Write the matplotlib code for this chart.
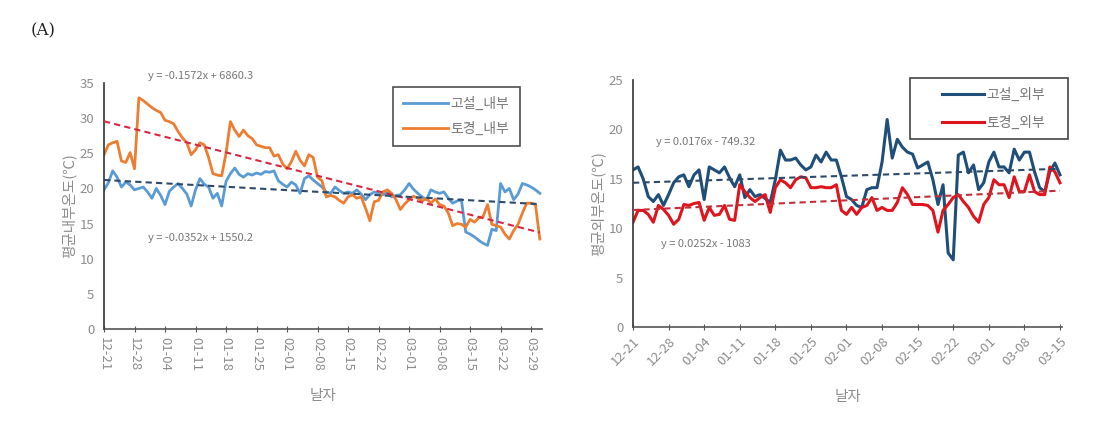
import numpy as np
import pandas as pd
import matplotlib
matplotlib.use('Agg')
import matplotlib.pyplot as plt
import matplotlib.dates as mdates
from matplotlib.patches import Rectangle

plt.rcParams['font.family'] = ['Noto Sans CJK KR', 'DejaVu Sans']

# left panel: inside temperature, 2018-12-21 .. 2019-03-31
in_start = '2018-12-21'
gosul_in = [19.8, 20.8, 22.5, 21.6, 20.2, 20.9, 20.5, 19.8, 20.0, 20.2,
            19.5, 18.6, 20.0, 19.0, 17.7, 19.6, 20.2, 20.7, 20.0, 19.2,
            17.5, 19.8, 21.4, 20.6, 20.2, 18.6, 19.3, 17.5, 21.0, 22.1,
            22.9, 22.0, 21.6, 22.1, 21.9, 22.2, 22.0, 22.4, 22.3, 22.5,
            21.1, 20.6, 20.2, 20.9, 20.5, 19.3, 21.4, 21.8, 21.2, 20.7,
            20.2, 19.5, 19.3, 20.2, 19.7, 19.3, 19.5, 19.3, 19.8, 19.2,
            18.4, 19.1, 19.5, 19.3, 19.1, 19.4, 18.8, 19.0, 19.1, 19.8,
            20.7, 19.9, 19.3, 18.8, 18.4, 19.8, 19.5, 19.3, 19.5, 18.6,
            17.9, 18.2, 18.4, 13.8, 13.5, 13.1, 12.6, 12.2, 11.9, 14.2,
            14.0, 20.7, 19.5, 20.0, 18.4, 19.2, 20.7, 20.5, 20.2, 19.8,
            19.3]
togyeong_in = [24.8, 26.2, 26.5, 26.7, 23.9, 23.7, 25.1, 22.8, 32.9, 32.5,
               32.0, 31.5, 31.1, 30.8, 29.7, 29.5, 29.2, 28.1, 27.2, 26.5,
               24.8, 25.5, 26.5, 26.2, 24.4, 22.1, 21.9, 21.8, 25.0, 29.5,
               28.3, 27.4, 28.3, 27.5, 27.1, 26.2, 26.0, 25.8, 25.8, 24.6,
               24.8, 23.5, 22.8, 23.8, 25.3, 24.0, 23.2, 24.8, 24.4, 21.6,
               21.1, 18.8, 19.0, 18.8, 18.3, 17.9, 18.8, 19.1, 18.6, 18.8,
               17.2, 15.4, 18.1, 18.3, 19.5, 19.8, 19.3, 18.4, 17.0, 17.8,
               18.4, 18.9, 18.6, 18.2, 18.6, 17.9, 18.5, 17.7, 17.5, 16.5,
               14.7, 15.0, 14.9, 14.5, 15.6, 15.2, 15.8, 16.0, 17.7, 14.9,
               14.7, 14.5, 13.5, 12.8, 14.0, 14.9, 16.5, 17.9, 17.9, 17.7,
               12.8]
in_ticks = ['12-21', '12-28', '01-04', '01-11', '01-18', '01-25', '02-01', '02-08',
            '02-15', '02-22', '03-01', '03-08', '03-15', '03-22', '03-29']

# right panel: outside temperature, 2018-12-21 .. 2019-03-15
out_start = '2018-12-21'
gosul_out = [15.9, 16.2, 15.0, 13.2, 12.7, 13.4, 12.3, 13.4, 14.6, 15.2,
             15.4, 14.2, 15.4, 15.9, 12.9, 16.2, 15.9, 15.6, 16.2, 15.1,
             14.2, 15.4, 13.1, 13.9, 13.2, 13.4, 13.0, 12.6, 14.9, 17.9,
             16.9, 16.9, 17.1, 16.4, 15.9, 16.2, 17.4, 16.7, 17.7, 16.9,
             16.9, 15.2, 13.2, 12.9, 12.3, 12.1, 13.9, 14.1, 14.1, 16.7,
             21.0, 17.1, 19.0, 18.2, 17.7, 17.5, 16.1, 16.4, 16.7, 14.9,
             12.4, 14.4, 7.5, 6.8, 17.4, 17.7, 15.6, 16.4, 13.9, 14.6,
             16.7, 17.7, 16.2, 16.2, 15.6, 18.0, 16.9, 17.7, 17.7, 15.7,
             14.1, 13.7, 15.7, 16.6, 15.4]
togyeong_out = [10.6, 11.8, 11.8, 11.4, 10.6, 12.3, 11.9, 11.3, 10.4, 10.9,
                12.4, 12.3, 12.5, 12.6, 10.8, 12.1, 11.3, 11.4, 12.3, 10.9,
                10.8, 14.4, 13.7, 13.1, 12.7, 13.1, 13.4, 11.6, 14.1, 14.9,
                14.6, 14.1, 14.9, 15.2, 15.1, 14.1, 14.1, 14.2, 14.1, 14.1,
                14.4, 11.8, 11.4, 12.1, 11.4, 12.1, 12.3, 13.1, 11.8, 12.1,
                11.8, 11.8, 12.6, 14.1, 13.4, 12.4, 12.4, 12.4, 12.3, 11.8,
                9.6, 11.8, 12.4, 13.1, 13.4, 12.7, 12.1, 11.2, 10.6, 12.4,
                13.1, 14.9, 14.4, 14.4, 13.1, 15.2, 13.7, 13.7, 15.4, 13.7,
                13.4, 13.4, 16.2, 15.7, 14.6]
out_ticks = ['12-21', '12-28', '01-04', '01-11', '01-18', '01-25', '02-01',
             '02-08', '02-15', '02-22', '03-01', '03-08', '03-15']

txt = '#8c8c8c'

fig = plt.figure(figsize=(10.98, 4.22), dpi=100)
ax1 = fig.add_axes([104/1098, 1-329/422, 438/1098, 246/422])
ax2 = fig.add_axes([633/1098, 1-327/422, 429/1098, 247/422])

fig.text(0.028, 0.915, '(A)', fontsize=12, family='DejaVu Serif', color='#222222')


def trend(ax, x, y, color):
    xn = mdates.date2num(x)
    k, b = np.polyfit(xn, y, 1)
    ax.plot(x, k * xn + b, '--', color=color, lw=1.5, dashes=(3, 2), zorder=3)


def style(ax, ylim, yticks, ylabel, ticklabels, x, rot):
    ax.set_ylim(*ylim)
    ax.set_yticks(yticks)
    for s in ['top', 'right']:
        ax.spines[s].set_visible(False)
    ax.spines['left'].set_color('#333333')
    ax.spines['bottom'].set_color('#555555')
    ax.spines['left'].set_linewidth(1.2)
    ax.spines['bottom'].set_linewidth(1.2)
    ax.tick_params(axis='y', length=0, labelsize=9.5, labelcolor=txt, pad=7)
    ax.tick_params(axis='x', length=4, direction='inout', color='#555555',
                   labelsize=9.5, labelcolor=txt)
    tick_dates = pd.date_range(x[0], periods=len(ticklabels), freq='7D')
    ax.set_xticks(tick_dates)
    if rot == 270:
        ax.set_xticklabels(ticklabels, rotation=270, va='top', ha='center')
    else:
        ax.set_xticklabels(ticklabels, rotation=45, ha='right', va='top',
                           rotation_mode='anchor')
    ax.set_ylabel(ylabel, fontsize=10.5, color=txt, labelpad=2)
    ax.set_xlabel('날자', fontsize=10.5, color=txt)


# left
x_in = pd.date_range(in_start, periods=len(gosul_in), freq='D')
ax1.plot(x_in, gosul_in, color='#5b9bd5', lw=2, label='고설_내부', zorder=2)
ax1.plot(x_in, togyeong_in, color='#ed7d31', lw=2, label='토경_내부', zorder=2)
trend(ax1, x_in, np.array(togyeong_in), '#d62840')
trend(ax1, x_in, np.array(gosul_in), '#2e4a6b')
ax1.set_xlim(x_in[0], x_in[0] + pd.Timedelta(days=100.5))
style(ax1, (0, 35), range(0, 36, 5), '평균내부온도(℃)', in_ticks, x_in, 270)
ax1.xaxis.labelpad = 13
ax1.text(0.22, 1.03, 'y = -0.1572x + 6860.3', transform=ax1.transAxes,
         fontsize=8, color='#777777', ha='center', va='center')
ax1.text(0.22, 0.37, 'y = -0.0352x + 1550.2', transform=ax1.transAxes,
         fontsize=8, color='#777777', ha='center', va='center')
leg1 = ax1.legend(loc='upper left', bbox_to_anchor=(0.66, 0.985), frameon=True,
                  fancybox=False, edgecolor='#222222', fontsize=10,
                  handlelength=3.2, handletextpad=0.2, borderpad=0.75,
                  labelspacing=0.75, borderaxespad=0)
for t in leg1.get_texts():
    t.set_color('#777777')
leg1.get_frame().set_linewidth(1.2)

# right
x_out = pd.date_range(out_start, periods=len(gosul_out), freq='D')
ax2.plot(x_out, gosul_out, color='#1f4e79', lw=2.2, label='고설_외부', zorder=2)
ax2.plot(x_out, togyeong_out, color='#e0141c', lw=2.2, label='토경_외부', zorder=2)
trend(ax2, x_out, np.array(gosul_out), '#2e4a6b')
trend(ax2, x_out, np.array(togyeong_out), '#c0303a')
ax2.set_xlim(x_out[0], x_out[0] + pd.Timedelta(days=84.4))
style(ax2, (0, 25), range(0, 26, 5), '평균외부온도(℃)', out_ticks, x_out, 45)
ax2.xaxis.labelpad = 16
ax2.text(0.17, 0.75, 'y = 0.0176x - 749.32', transform=ax2.transAxes,
         fontsize=8, color='#777777', ha='center', va='center')
ax2.text(0.17, 0.335, 'y = 0.0252x - 1083', transform=ax2.transAxes,
         fontsize=8, color='#777777', ha='center', va='center')
leg2 = ax2.legend(loc='upper left', bbox_to_anchor=(0.72, 0.97), frameon=False,
                  fontsize=10, handlelength=3.0, handletextpad=0.2, borderpad=0,
                  labelspacing=1.0, borderaxespad=0)
for t in leg2.get_texts():
    t.set_color('#777777')
ax2.add_patch(Rectangle((0.646, 0.761), 0.368, 0.247, transform=ax2.transAxes,
                        fill=False, edgecolor='#444444', lw=1.2, clip_on=False,
                        zorder=5))

fig.savefig('out.png', dpi=100)
